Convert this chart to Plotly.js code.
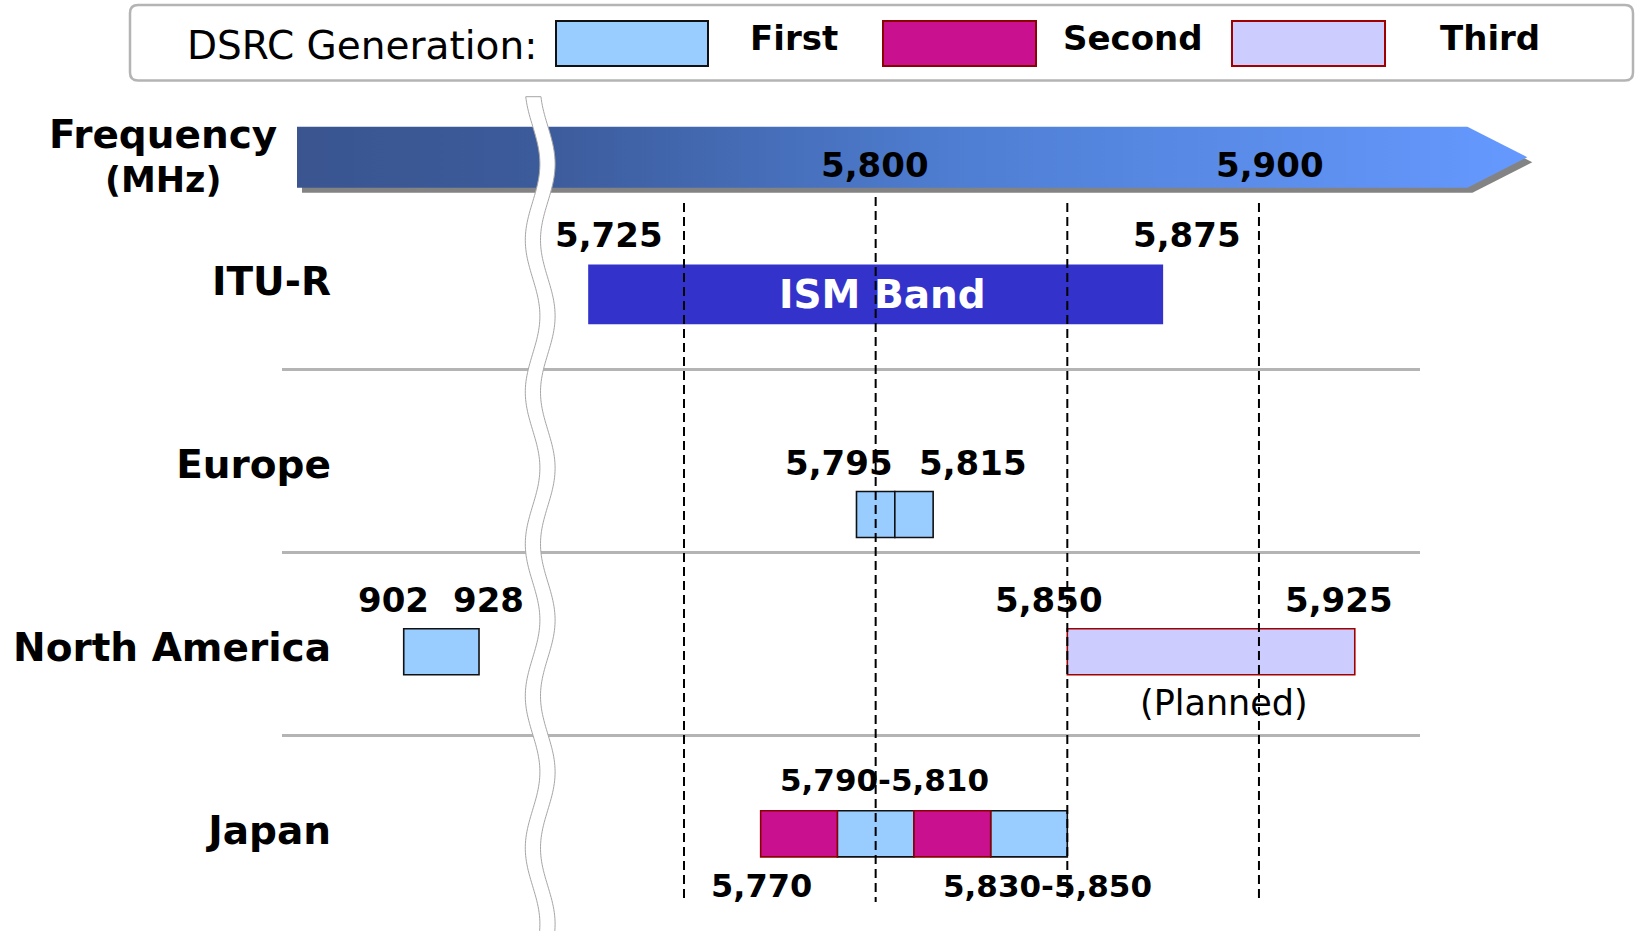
<!DOCTYPE html>
<html>
<head>
<meta charset="utf-8">
<script src="https://cdn.plot.ly/plotly-3.0.1.min.js"></script>
<style>
html,body{margin:0;padding:0;background:#ffffff;}
#chart{width:1640px;height:931px;}
</style>
</head>
<body>
<div id="chart"></div>
<script>
// ---------------- data ----------------
const rows = ['ITU-R', 'Europe', 'North America', 'Japan'];
const ismBand = [5725, 5875];
const ismLabel = 'ISM Band';
const gridFreqs = [5750, 5800, 5850, 5900];
const axisTickVals = [5800, 5900];
const axisTickText = ['5,800', '5,900'];
const bandRow   = ['Europe', 'Europe', 'North America', 'Japan', 'Japan', 'Japan', 'Japan'];
const bandStart = [5795, 5805, 5850, 5770, 5790, 5810, 5830];
const bandEnd   = [5805, 5815, 5925, 5790, 5810, 5830, 5850];
const bandGen   = ['First', 'First', 'Third', 'Second', 'First', 'Second', 'First'];
const lowBandRow = 'North America';
const lowBand = [902, 928];
const lowBandGen = 'First';
const generations = ['First', 'Second', 'Third'];
const legendTitle = 'DSRC Generation:';
const axisTitle = ['Frequency', '(MHz)'];
const plannedNote = '(Planned)';

// ---------------- style / layout constants ----------------
const W = 1640, H = 931;
const FONT = 'DejaVu Sans';
const genFill = {First: '#99ccff', Second: '#c9118f', Third: '#ccccff'};
const genLine = {First: '#111111', Second: '#8b0000', Third: '#a00000'};
const rowPx0 = 281, rowPitch = 183;            // pixel centre of first row, row pitch
const rowOffset = {'ITU-R': 0.073, 'Europe': 0.276, 'North America': 0.026, 'Japan': 0.021};
const boxThick = 0.252, ismThick = 0.326;
const py = v => 1 - v / H;                      // pixel -> paper (y)
const px = v => v / W;                          // pixel -> paper (x)

// ---------------- traces ----------------
const traces = [];

// frequency arrow (shadow + gradient body), drawn on a hidden pixel canvas axis
const arrowX = [297, 1467.4, 1527.3, 1467.4, 297, 297];
const arrowY = [126.7, 126.7, 157.2, 187.7, 187.7, 126.7];
traces.push({
  type: 'scatter', mode: 'lines', xaxis: 'x3', yaxis: 'y3',
  x: arrowX.map(v => v + 5), y: arrowY.map(v => v + 5),
  fill: 'toself', fillcolor: '#838383', line: {width: 0},
  hoverinfo: 'skip', showlegend: false
});
traces.push({
  type: 'scatter', mode: 'lines', xaxis: 'x3', yaxis: 'y3',
  x: arrowX, y: arrowY,
  fill: 'toself', line: {width: 0},
  fillgradient: {type: 'horizontal', colorscale: [[0, '#3a5590'], [0.2, '#3c5b9b'], [0.55, '#4f7fd4'], [1, '#6699ff']]},
  hoverinfo: 'skip', showlegend: false
});

// ISM band
traces.push({
  type: 'bar', orientation: 'h', xaxis: 'x2', yaxis: 'y',
  y: [rows.indexOf('ITU-R') + rowOffset['ITU-R']],
  base: [ismBand[0]], x: [ismBand[1] - ismBand[0]], width: [ismThick],
  marker: {color: '#3333cc', line: {width: 0}},
  hoverinfo: 'skip', showlegend: false
});

// DSRC bands by generation (5.x GHz axis)
generations.forEach(g => {
  const idx = bandGen.map((v, i) => v === g ? i : -1).filter(i => i >= 0);
  traces.push({
    type: 'bar', orientation: 'h', xaxis: 'x2', yaxis: 'y',
    y: idx.map(i => rows.indexOf(bandRow[i]) + rowOffset[bandRow[i]]),
    base: idx.map(i => bandStart[i]),
    x: idx.map(i => bandEnd[i] - bandStart[i]),
    width: idx.map(() => boxThick),
    marker: {color: genFill[g], line: {color: genLine[g], width: 1.6}},
    hoverinfo: 'skip', showlegend: false
  });
});

// 900 MHz band (left broken axis)
traces.push({
  type: 'bar', orientation: 'h', xaxis: 'x', yaxis: 'y',
  y: [rows.indexOf(lowBandRow) + rowOffset[lowBandRow]],
  base: [lowBand[0]], x: [lowBand[1] - lowBand[0]], width: [boxThick],
  marker: {color: genFill[lowBandGen], line: {color: genLine[lowBandGen], width: 1.6}},
  hoverinfo: 'skip', showlegend: false
});

// ---------------- shapes ----------------
const shapes = [];

// legend frame
const lx0 = 130, lx1 = 1633, ly0 = 5, ly1 = 80.5, r = 8;
shapes.push({
  type: 'path', xref: 'x3', yref: 'y3', layer: 'below',
  path: `M ${lx0 + r},${ly0} L ${lx1 - r},${ly0} Q ${lx1},${ly0} ${lx1},${ly0 + r} L ${lx1},${ly1 - r} Q ${lx1},${ly1} ${lx1 - r},${ly1} L ${lx0 + r},${ly1} Q ${lx0},${ly1} ${lx0},${ly1 - r} L ${lx0},${ly0 + r} Q ${lx0},${ly0} ${lx0 + r},${ly0} Z`,
  line: {color: '#b4b4b4', width: 2.5}, fillcolor: 'rgba(0,0,0,0)'
});
// legend swatches
const swatchX = [[556, 708], [883, 1036], [1232, 1385]];
generations.forEach((g, i) => {
  shapes.push({
    type: 'rect', xref: 'x3', yref: 'y3', layer: 'above',
    x0: swatchX[i][0], x1: swatchX[i][1], y0: 21, y1: 66,
    fillcolor: genFill[g], line: {color: genLine[g], width: 2}
  });
});

// row separators
for (let i = 0; i < rows.length - 1; i++) {
  shapes.push({
    type: 'line', xref: 'paper', yref: 'y', layer: 'below',
    x0: px(282), x1: px(1420), y0: i + 0.483, y1: i + 0.483,
    line: {color: '#b4b4b4', width: 3}
  });
}

// dashed frequency guides
gridFreqs.forEach(f => {
  shapes.push({
    type: 'line', xref: 'x2', yref: 'paper', layer: 'above',
    x0: f, x1: f, y0: py(f === 5800 ? 197 : 203), y1: py(902),
    line: {color: '#000000', width: 2, dash: '9px,5px'}
  });
});

// axis break (wavy white band)
(function () {
  const left = [], right = [];
  for (let y = 96.7; y <= 936; y += 3) {
    const c = 540.2 - 7.3 * Math.cos(2 * Math.PI * (y - 240) / 152);
    left.push([c - 7.6, y]);
    right.push([c + 7.6, y]);
  }
  right.reverse();
  const pts = left.concat(right);
  const path = 'M ' + pts.map(p => p[0].toFixed(2) + ',' + p[1].toFixed(2)).join(' L ') + ' Z';
  shapes.push({
    type: 'path', xref: 'x3', yref: 'y3', layer: 'above',
    path: path, fillcolor: '#ffffff', line: {color: '#a6a6a6', width: 1}
  });
})();

// ---------------- annotations ----------------
const annotations = [];
function ann(text, xref, x, xshift, yPx, size, opts) {
  opts = opts || {};
  annotations.push({
    text: text, xref: xref, x: x, xshift: xshift || 0,
    yref: 'paper', y: py(yPx), xanchor: 'center', yanchor: 'middle',
    showarrow: false,
    font: {family: FONT, size: size, color: opts.color || '#000000', weight: opts.weight || 'bold'}
  });
}
const fmt = v => v.toLocaleString('en-US');

// legend text
ann(legendTitle, 'paper', px(362.3), 0, 45.5, 39, {weight: 'normal'});
const legendLabelX = [793.7, 1133, 1490];
generations.forEach((g, i) => ann(g, 'paper', px(legendLabelX[i]), 0, 38.5, 34));

// axis title
ann(axisTitle[0], 'paper', px(163), 0, 134.5, 39);
ann(axisTitle[1], 'paper', px(162.6), 0, 180, 35);

// arrow tick labels
const tickShift = [-1, 10.7];
axisTickVals.forEach((v, i) => ann(axisTickText[i], 'x2', v, tickShift[i], 165.3, 34));

// ISM band
ann(ismLabel, 'x2', (ismBand[0] + ismBand[1]) / 2, 7, 294.2, 39, {color: '#ffffff'});
ann(fmt(ismBand[0]), 'x2', ismBand[0], 20.5, 235, 34);
ann(fmt(ismBand[1]), 'x2', ismBand[1], 24, 235, 34);

// Europe
ann(fmt(bandStart[0]), 'x2', bandStart[0], -17, 463.3, 34);
ann(fmt(bandEnd[1]), 'x2', bandEnd[1], 40, 463.3, 34);

// North America
ann(String(lowBand[0]), 'x', lowBand[0], -10, 600, 34);
ann(String(lowBand[1]), 'x', lowBand[1], 9, 600, 34);
ann(fmt(bandStart[2]), 'x2', bandStart[2], -18, 600, 34);
ann(fmt(bandEnd[2]), 'x2', bandEnd[2], -15.6, 600, 34);
ann(plannedNote, 'x2', (bandStart[2] + bandEnd[2]) / 2, 13, 703, 35, {weight: 'normal'});

// Japan
ann(fmt(bandStart[4]) + '-' + fmt(bandEnd[4]), 'x2', (bandStart[4] + bandEnd[4]) / 2, 9, 779.7, 31);
ann(fmt(bandStart[3]), 'x2', bandStart[3], 1, 885.8, 32);
ann(fmt(bandStart[6]) + '-' + fmt(bandEnd[6]), 'x2', (bandStart[6] + bandEnd[6]) / 2, 18.5, 885.8, 31);

// ---------------- layout ----------------
const layout = {
  width: W, height: H,
  margin: {l: 0, r: 0, t: 0, b: 0, pad: 0},
  paper_bgcolor: '#ffffff', plot_bgcolor: 'rgba(0,0,0,0)',
  showlegend: false, barmode: 'overlay',
  font: {family: FONT, color: '#000000'},
  xaxis: {domain: [0, 541 / W], range: [762.6, 949.4], anchor: 'y', visible: false, fixedrange: true},
  xaxis2: {domain: [0, 1], range: [5571.55, 5999.41], anchor: 'y', visible: false, fixedrange: true},
  xaxis3: {domain: [0, 1], range: [0, W], anchor: 'y3', visible: false, fixedrange: true},
  yaxis: {
    domain: [0, 1], range: [(H - rowPx0) / rowPitch, -rowPx0 / rowPitch],
    anchor: 'free', position: px(331),
    tickmode: 'array', tickvals: rows.map((_, i) => i), ticktext: rows,
    ticks: '', showgrid: false, zeroline: false, showline: false,
    tickfont: {family: FONT, size: 39, color: '#000000', weight: 'bold'},
    fixedrange: true
  },
  yaxis3: {domain: [0, 1], range: [H, 0], anchor: 'x3', visible: false, fixedrange: true},
  shapes: shapes,
  annotations: annotations
};

Plotly.newPlot('chart', traces, layout, {staticPlot: true, displayModeBar: false});
</script>
</body>
</html>
